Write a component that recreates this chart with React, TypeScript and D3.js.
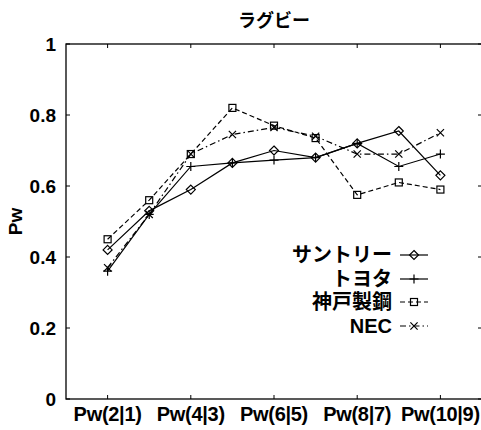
import React from "react";
import * as d3 from "d3";

const title = "ラグビー";
const yLabel = "Pw";
const categories = ["Pw(2|1)", "Pw(3|2)", "Pw(4|3)", "Pw(5|4)", "Pw(6|5)", "Pw(7|6)", "Pw(8|7)", "Pw(9|8)", "Pw(10|9)"];
const tickCategories = ["Pw(2|1)", "Pw(4|3)", "Pw(6|5)", "Pw(8|7)", "Pw(10|9)"];
const yTicks = [0, 0.2, 0.4, 0.6, 0.8, 1];

const seriesNames = ["サントリー", "トヨタ", "神戸製鋼", "NEC"];
const suntory = [0.42, 0.53, 0.59, 0.665, 0.70, 0.68, 0.72, 0.755, 0.63];
const toyota = [0.36, 0.52, 0.655, 0.665, 0.673, 0.68, 0.72, 0.655, 0.69];
const kobe = [0.45, 0.56, 0.69, 0.82, 0.77, 0.735, 0.575, 0.61, 0.59];
const nec = [0.37, 0.52, 0.69, 0.745, 0.765, 0.74, 0.69, 0.69, 0.75];

const W = 481, H = 430;
const left = 66, right = 482, top = 44, bottom = 399;
const FONT = "'Liberation Sans', Arial, 'Noto Sans CJK JP', sans-serif";

const styles = [
  { marker: "diamond", dash: "none" },
  { marker: "plus", dash: "none" },
  { marker: "square", dash: "5,3" },
  { marker: "cross", dash: "6,3,1.5,3" },
];

function Marker({ type, x, y }: { type: string; x: number; y: number }) {
  const s = 4.5;
  const common = { fill: "none", stroke: "#000", strokeWidth: 1.2 };
  if (type === "diamond")
    return <path d={`M${x},${y - s}L${x + s},${y}L${x},${y + s}L${x - s},${y}Z`} {...common} />;
  if (type === "plus")
    return <path d={`M${x - s},${y}H${x + s}M${x},${y - s}V${y + s}`} {...common} />;
  if (type === "square")
    return <rect x={x - 3.5} y={y - 3.5} width={7} height={7} {...common} />;
  const c = 3.6;
  return <path d={`M${x - c},${y - c}L${x + c},${y + c}M${x - c},${y + c}L${x + c},${y - c}`} {...common} />;
}

export default function App() {
  const x = d3.scalePoint<string>().domain(categories).range([left, right]).padding(1);
  const y = d3.scaleLinear().domain([0, 1]).range([bottom, top]);
  const allSeries = [suntory, toyota, kobe, nec];
  const line = d3
    .line<number>()
    .x((_, i) => x(categories[i]) as number)
    .y((d) => y(d));

  const legendRows = [255, 279, 302, 326];

  return (
    <svg width={W} height={H} style={{ position: "absolute", left: 0, top: 0, background: "#fff" }}
      fontFamily={FONT}>
      <rect x={0} y={0} width={W} height={H} fill="#fff" />
      {/* frame */}
      <rect x={left} y={top} width={right - left} height={bottom - top} fill="none" stroke="#000" strokeWidth={1.3} />
      {/* x ticks */}
      {tickCategories.map((c) => {
        const xx = x(c) as number;
        return (
          <g key={c}>
            <line x1={xx} x2={xx} y1={bottom} y2={bottom - 4} stroke="#000" />
            <line x1={xx} x2={xx} y1={top} y2={top + 4} stroke="#000" />
            <text x={xx} y={421} textAnchor="middle" fontSize={20} fontWeight="bold" letterSpacing={-0.3}>{c}</text>
          </g>
        );
      })}
      {/* y ticks */}
      {yTicks.map((t) => (
        <g key={t}>
          <line x1={left} x2={left + 4} y1={y(t)} y2={y(t)} stroke="#000" />
          <line x1={right} x2={right - 4} y1={y(t)} y2={y(t)} stroke="#000" />
          <text x={56} y={y(t)} dy="0.36em" textAnchor="end" fontSize={19} fontWeight="bold">{String(t)}</text>
        </g>
      ))}
      {/* axis label and title */}
      <text transform={`translate(15,${(top + bottom) / 2}) rotate(-90)`} dy="0.35em" textAnchor="middle" fontSize={19} fontWeight="bold">{yLabel}</text>
      <text x={(left + right) / 2} y={27} textAnchor="middle" fontSize={18} fontWeight="bold">{title}</text>
      {/* series */}
      {allSeries.map((s, k) => (
        <g key={k}>
          <path d={line(s) || ""} fill="none" stroke="#000" strokeWidth={1.2} strokeDasharray={styles[k].dash} />
          {s.map((v, i) => (
            <Marker key={i} type={styles[k].marker} x={x(categories[i]) as number} y={y(v)} />
          ))}
        </g>
      ))}
      {/* legend */}
      {seriesNames.map((n, k) => (
        <g key={n}>
          <text x={392} y={legendRows[k]} dy="0.36em" textAnchor="end" fontSize={20} fontWeight="bold">{n}</text>
          <line x1={400} x2={428} y1={legendRows[k]} y2={legendRows[k]} stroke="#000" strokeWidth={1.2} strokeDasharray={styles[k].dash} />
          <Marker type={styles[k].marker} x={414} y={legendRows[k]} />
        </g>
      ))}
    </svg>
  );
}
